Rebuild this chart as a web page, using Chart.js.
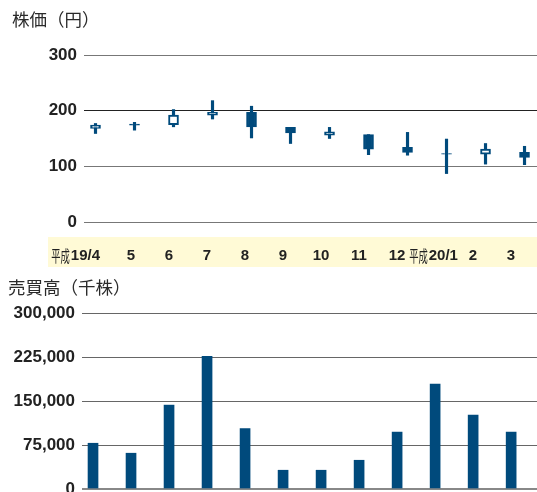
<!DOCTYPE html>
<html lang="ja">
<head>
<meta charset="utf-8">
<script src="https://cdn.jsdelivr.net/npm/chart.js@4"></script>
<style>
html, body { margin: 0; padding: 0; overflow: hidden; background: #fff; }
.wrap { position: relative; width: 537px; height: 492px; overflow: hidden; }
canvas { position: absolute; left: 0; }
#price-canvas { top: 0; }
#volume-canvas { top: 270px; }
.caption { position: absolute; font-family: "Noto Sans CJK JP", sans-serif; font-size: 17.5px; line-height: 18px; color: #2a2a2a; white-space: nowrap; }
</style>
</head>
<body>
<div class="wrap">
<canvas id="price-canvas" width="537" height="270"></canvas>
<canvas id="volume-canvas" width="537" height="240"></canvas>
<div class="caption" style="left:12px; top:10px">株価（円）</div>
<div class="caption" style="left:8px; top:278px">売買高（千株）</div>
</div>
<script>
const months = ['平成19/4', '5', '6', '7', '8', '9', '10', '11', '12', '平成20/1', '2', '3'];
const openPrices = [168, 176, 175, 192, 197, 170, 156, 157, 134, 123, 122, 125];
const highPrices = [177, 179, 202, 218, 208, 170, 170, 157, 161, 149, 141, 136];
const lowPrices = [159, 165, 171, 185, 151, 141, 150, 121, 120, 87, 104, 103];
const closePrices = [174, 174, 192, 197, 171, 160, 162, 131, 125, 122, 131, 116];
const volumes = [78000, 61000, 143000, 226000, 103000, 32000, 32000, 49000, 97000, 179000, 126000, 97000];

const blue = '#004a7c';
const numFont = '"Liberation Sans", Arial, sans-serif';

// "平成19/4" -> ["平成", "19/4"]
function splitEra(label) {
    return label.startsWith('平成') ? ['平成', label.slice(2)] : ['', label];
}

// labels with the era prefix sit a bit off the bar centre
const labelNudge = { 0: -0.2, 9: 0.22 };

const bandPlugin = {
    id: 'band',
    beforeDraw(chart) {
        const s = chart.scales.xl;
        const ctx = chart.ctx;
        ctx.save();
        ctx.fillStyle = '#fffad6';
        ctx.fillRect(48, s.top + 15, chart.width - 48, 30);
        ctx.restore();
    },
    afterDraw(chart) {
        // small squeezed era prefix in front of the number
        const s = chart.scales.xl;
        const ctx = chart.ctx;
        const items = s.getLabelItems();
        items.forEach((item, i) => {
            const [era, num] = splitEra(months[i]);
            if (!era) return;
            ctx.save();
            ctx.font = item.font.string;
            const x = item.options.translation[0] - ctx.measureText(num).width / 2 - 1;
            ctx.translate(x, item.options.translation[1] + item.textOffset);
            ctx.scale(0.58, 1);
            ctx.font = '16px "Noto Sans CJK JP"';
            ctx.textAlign = 'right';
            ctx.textBaseline = item.options.textBaseline;
            ctx.fillStyle = '#222';
            ctx.fillText(era, 0, 0);
            ctx.restore();
        });
    },
};

const tickFont = { family: numFont, size: 17, weight: 'bold' };

new Chart('price-canvas', {
    type: 'bar',
    data: {
        datasets: [{
            label: 'body',
            data: months.map((m, i) => ({ x: i, y: [openPrices[i], closePrices[i]] })),
            backgroundColor: months.map((m, i) => closePrices[i] > openPrices[i] ? '#fff' : blue),
            borderColor: blue,
            borderWidth: 2,
            borderSkipped: false,
            barThickness: 10,
            grouped: false,
            order: 0,
        }, {
            label: 'wick',
            data: months.map((m, i) => ({ x: i, y: [lowPrices[i], highPrices[i]] })),
            backgroundColor: blue,
            barThickness: 2.5,
            grouped: false,
            order: 1,
        }],
    },
    options: {
        responsive: false,
        animation: false,
        events: [],
        layout: { padding: { top: 55, right: 0, bottom: 0, left: 0 } },
        plugins: { legend: { display: false }, tooltip: { enabled: false } },
        scales: {
            x: { type: 'linear', display: false, offset: false, min: -0.295, max: 11.32 },
            xl: {
                type: 'linear',
                position: 'bottom',
                offset: false,
                min: -0.237,
                max: 11.684,
                grid: { display: false, offset: false },
                border: { display: false },
                afterBuildTicks: s => { s.ticks = months.map((m, i) => ({ value: i + (labelNudge[i] || 0) })); },
                afterFit: s => { s.height = 48; },
                ticks: {
                    autoSkip: false,
                    maxRotation: 0,
                    padding: 17,
                    color: '#222',
                    font: { family: numFont, size: 15, weight: 'bold' },
                    callback: (v, i) => splitEra(months[i])[1],
                },
            },
            y: {
                min: 0,
                max: 300,
                afterFit: s => { s.width = 84; },
                border: { display: false },
                grid: { color: c => c.tick.value === 200 ? '#222' : '#777', drawTicks: false },
                ticks: { stepSize: 100, padding: 7, color: '#222', font: tickFont },
            },
        },
    },
    plugins: [bandPlugin],
});

new Chart('volume-canvas', {
    type: 'bar',
    data: {
        datasets: [{
            data: volumes.map((v, i) => ({ x: i, y: v })),
            backgroundColor: blue,
            barThickness: 10,
        }],
    },
    options: {
        responsive: false,
        animation: false,
        events: [],
        layout: { padding: { top: 43, right: 0, bottom: 21, left: 0 } },
        plugins: { legend: { display: false }, tooltip: { enabled: false } },
        scales: {
            x: { type: 'linear', display: false, offset: false, min: -0.29, max: 11.68 },
            y: {
                min: 0,
                max: 300000,
                afterFit: s => { s.width = 82; },
                border: { display: false },
                grid: {
                    color: c => c.tick.value === 0 ? '#888' : '#666',
                    lineWidth: c => c.tick.value === 0 ? 2 : 1,
                    drawTicks: false,
                },
                ticks: {
                    stepSize: 75000,
                    padding: 7,
                    color: '#222',
                    font: tickFont,
                    callback: v => v.toLocaleString('en-US'),
                },
            },
        },
    },
});
</script>
</body>
</html>
